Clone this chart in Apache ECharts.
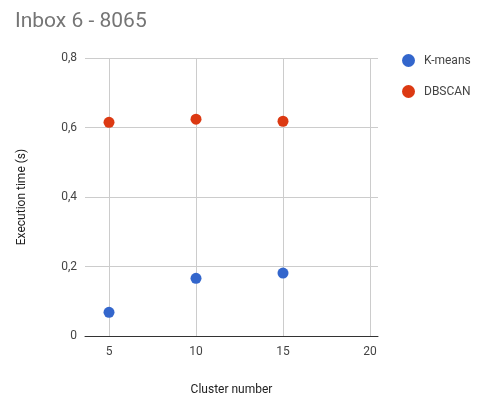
<!DOCTYPE html>
<html><head><meta charset="utf-8">
<script src="https://cdn.jsdelivr.net/npm/echarts@6/dist/echarts.min.js"></script>
<style>html,body{margin:0;padding:0;background:#fff}#c{width:491px;height:399px}</style>
</head><body><div id="c"></div>
<script>
const clusterNumbers = [5, 10, 15];
const kmeansTimes = [0.068, 0.166, 0.181];
const dbscanTimes = [0.615, 0.624, 0.618];
const xTicks = [5, 10, 15, 20];
const seriesNames = ['K-means', 'DBSCAN'];

const chart = echarts.init(document.getElementById('c'));
const fmtY = v => v === 0 ? '0' : v.toFixed(1).replace('.', ',');
chart.setOption({
  animation: false,
  textStyle: {fontFamily: 'Roboto'},
  title: {text: 'Inbox 6 - 8065', left: 10, top: 6,
    textStyle: {fontFamily: 'Roboto', fontSize: 21, fontWeight: 'normal', color: '#757575'}},
  legend: {orient: 'vertical', left: 397, top: 49, itemGap: 18, icon: 'circle',
    itemWidth: 13, itemHeight: 13, itemStyle: {opacity: 1},
    textStyle: {fontSize: 12, color: '#444', padding: [0, 0, 0, 4]}, data: seriesNames},
  grid: {left: 85, right: 113, top: 58, bottom: 63, outerBoundsMode: 'none', containLabel: false},
  xAxis: {type: 'value', min: 3.62, max: 20.46,
    name: 'Cluster number', nameLocation: 'middle', nameGap: 48,
    nameTextStyle: {fontSize: 12, color: '#222'},
    axisLine: {show: true, lineStyle: {color: '#333', width: 1}},
    axisTick: {show: false, customValues: xTicks},
    axisLabel: {customValues: xTicks, fontSize: 12, color: '#444', margin: 10},
    splitLine: {show: true, lineStyle: {color: '#ccc', width: 1}}},
  yAxis: {type: 'value', min: 0, max: 0.8, interval: 0.2,
    name: 'Execution time (s)', nameLocation: 'middle', nameGap: 57,
    nameTextStyle: {fontSize: 12, color: '#222'},
    axisLine: {show: false}, axisTick: {show: false},
    axisLabel: {formatter: fmtY, fontSize: 12, color: '#444', margin: 8},
    splitLine: {lineStyle: {color: '#ccc', width: 1}}},
  series: [
    {name: seriesNames[0], type: 'scatter', symbolSize: 11, color: '#3366cc',
      itemStyle: {opacity: 1},
      data: clusterNumbers.map((x, i) => [x, kmeansTimes[i]])},
    {name: seriesNames[1], type: 'scatter', symbolSize: 11, color: '#dc3912',
      itemStyle: {opacity: 1},
      data: clusterNumbers.map((x, i) => [x, dbscanTimes[i]])}
  ]
});
</script></body></html>
